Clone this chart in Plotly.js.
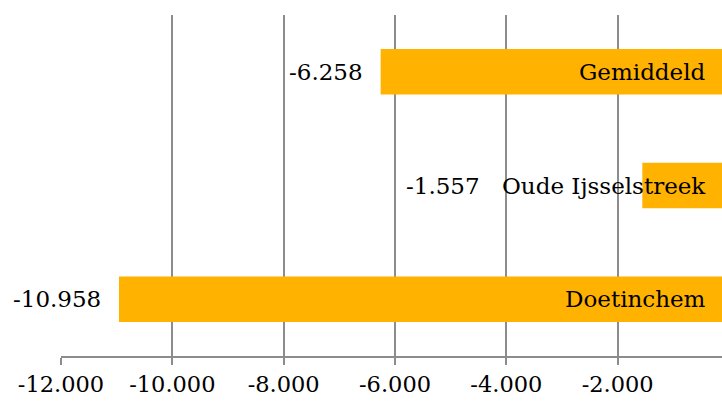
<!DOCTYPE html>
<html>
<head>
<meta charset="utf-8">
<script src="https://cdn.plot.ly/plotly-3.0.1.min.js"></script>
<style>
html,body{margin:0;padding:0;overflow:hidden;background:#fff;width:722px;height:403px;}
#chart{width:740px;height:403px;}
</style>
</head>
<body>
<div id="chart"></div>
<script>
// Data
const categories = ["Doetinchem", "Oude Ijsselstreek", "Gemiddeld"];
const values = [-10958, -1557, -6258];
const valueLabels = ["-10.958", "-1.557", "-6.258"];
const tickVals = [-12000, -10000, -8000, -6000, -4000, -2000, 0];
const tickLabels = ["-12.000", "-10.000", "-8.000", "-6.000", "-4.000", "-2.000", "-"];

const FONT = "DejaVu Serif, Georgia, serif";
const GRID = "#8c8c8c";
const BAR = "#FFB200";

const annotations = [];
categories.forEach((c, i) => {
  annotations.push({
    x: 0, y: c, xref: "x", yref: "y", text: c, showarrow: false,
    xanchor: "right", yanchor: "middle", xshift: -21,
    font: {family: FONT, size: 23, color: "#000"}
  });
  const overlaps = c === "Oude Ijsselstreek";
  annotations.push({
    x: overlaps ? 0 : values[i], y: c, xref: "x", yref: "y", text: valueLabels[i], showarrow: false,
    xanchor: "right", yanchor: "middle", xshift: overlaps ? -247 : -16,
    font: {family: FONT, size: 23, color: "#000"}
  });
});

const trace = {
  type: "bar", orientation: "h",
  y: categories, x: values,
  marker: {color: BAR, line: {width: 0}},
  hoverinfo: "none"
};

const layout = {
  width: 740, height: 403,
  margin: {l: 61, r: 11, t: 15, b: 47, pad: 0},
  paper_bgcolor: "#fff", plot_bgcolor: "#fff",
  showlegend: false,
  bargap: 0.6,
  font: {family: FONT, size: 23, color: "#000"},
  xaxis: {
    range: [-12000, 0], tickmode: "array", tickvals: tickVals, ticktext: tickLabels,
    showgrid: true, gridcolor: GRID, gridwidth: 2,
    showline: true, linecolor: GRID, linewidth: 2,
    ticks: "outside", ticklen: 7, tickcolor: GRID, tickwidth: 2,
    zeroline: false, tickfont: {family: FONT, size: 22.5, color: "#000"}
  },
  yaxis: {
    type: "category", categoryorder: "array", categoryarray: categories,
    side: "right", showticklabels: false, tickson: "boundaries",
    ticks: "inside", ticklen: 5, tickcolor: GRID, tickwidth: 2,
    showline: true, linecolor: GRID, linewidth: 2, showgrid: false, zeroline: false
  },
  annotations: annotations
};

Plotly.newPlot("chart", [trace], layout, {staticPlot: true, displayModeBar: false});
</script>
</body>
</html>
